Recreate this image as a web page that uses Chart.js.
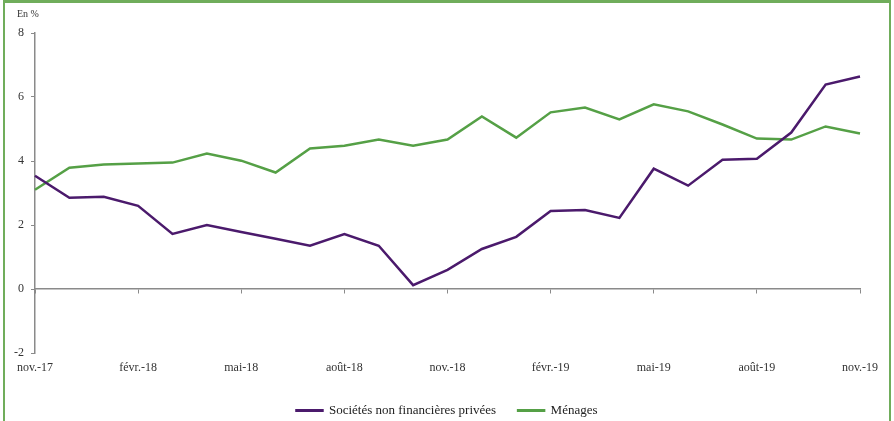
<!DOCTYPE html>
<html>
<head>
<meta charset="utf-8">
<script src="https://cdn.jsdelivr.net/npm/chart.js@4/dist/chart.umd.min.js"></script>
<style>
  html, body { margin: 0; padding: 0; background: #fff; overflow: hidden; }
  #frame {
    position: absolute; left: 3px; top: 0; width: 888px; height: 440px;
    box-sizing: border-box;
    border-top: 3px solid #70ad5b; border-left: 2px solid #70ad5b; border-right: 2px solid #70ad5b;
  }
  #unit {
    position: absolute; left: 17px; top: 8px;
    font-family: "Liberation Serif", serif; font-size: 10px; color: #333;
  }
  #wrap { position: absolute; left: 0; top: 0; width: 884px; height: 424px; }
</style>
</head>
<body>
<div id="frame">
  <div id="wrap"><canvas id="chart"></canvas></div>
</div>
<div id="unit">En %</div>
<script>
// months nov.-17 .. nov.-19
const months = [
  "nov.-17", "déc.-17", "janv.-18", "févr.-18", "mars-18", "avr.-18", "mai-18",
  "juin-18", "juil.-18", "août-18", "sept.-18", "oct.-18", "nov.-18", "déc.-18",
  "janv.-19", "févr.-19", "mars-19", "avr.-19", "mai-19", "juin-19", "juil.-19",
  "août-19", "sept.-19", "oct.-19", "nov.-19"
];

const societes = [
  3.54, 2.85, 2.88, 2.6, 1.72, 2.0, 1.78, 1.57, 1.35, 1.72, 1.35, 0.12, 0.6,
  1.25, 1.63, 2.44, 2.47, 2.22, 3.76, 3.23, 4.04, 4.07, 4.89, 6.39, 6.64
];

const menages = [
  3.1, 3.79, 3.89, 3.92, 3.95, 4.23, 4.01, 3.64, 4.39, 4.48, 4.67, 4.48, 4.67,
  5.39, 4.73, 5.52, 5.67, 5.3, 5.77, 5.55, 5.14, 4.7, 4.67, 5.08, 4.86
];

const purple = "#4b1a6c";
const green = "#55a046";
const axisGrey = "#8a8a8a";
const font = { family: "'Liberation Serif', serif", size: 12 };

const ctx = document.getElementById("chart").getContext("2d");

new Chart(ctx, {
  type: "line",
  data: {
    labels: months,
    datasets: [
      {
        label: "Sociétés non financières privées",
        data: societes,
        borderColor: purple,
        backgroundColor: purple,
        borderWidth: 2.5,
        pointRadius: 0,
        tension: 0,
      },
      {
        label: "Ménages",
        data: menages,
        borderColor: green,
        backgroundColor: green,
        borderWidth: 2.5,
        pointRadius: 0,
        tension: 0,
      },
    ],
  },
  options: {
    responsive: true,
    maintainAspectRatio: false,
    animation: false,
    layout: { padding: { top: 30, right: 0, left: 0, bottom: 0 } },
    plugins: {
      tooltip: { enabled: false },
      legend: {
        position: "bottom",
        labels: {
          font: { family: "'Liberation Serif', serif", size: 13 },
          color: "#222",
          boxWidth: 26,
          boxHeight: 0.5,
          padding: 22,
        },
      },
    },
    scales: {
      x: {
        type: "category",
        position: "bottom",
        grid: { display: false, drawTicks: false },
        border: { display: false },
        ticks: {
          autoSkip: false,
          maxRotation: 0,
          padding: 8,
          font: font,
          color: "#333",
          callback: function (value, index) {
            return index % 3 === 0 ? this.getLabelForValue(value) : "";
          },
        },
        afterFit: function (scale) { scale.height = 29; },
      },
      x2: {
        type: "category",
        labels: months,
        position: { y: 0 },
        grid: {
          drawOnChartArea: false,
          tickLength: 4,
          tickColor: (c) => (c.index % 3 === 0 ? axisGrey : "rgba(0,0,0,0)"),
        },
        border: { color: axisGrey, width: 1.5 },
        ticks: { display: false, autoSkip: false },
      },
      y: {
        min: -2,
        max: 8,
        grid: { drawOnChartArea: false, tickLength: 4, color: axisGrey },
        border: { color: axisGrey, width: 1.5 },
        ticks: { stepSize: 2, padding: 7, font: font, color: "#333" },
        afterFit: function (scale) { scale.width = 30; },
      },
      // empty right axis, only keeps room on the right of the plot
      yRight: {
        position: "right",
        min: -2,
        max: 8,
        grid: { display: false, drawTicks: false },
        border: { display: false },
        ticks: { display: false },
        afterFit: function (scale) { scale.width = 29; },
      },
    },
  },
});
</script>
</body>
</html>
